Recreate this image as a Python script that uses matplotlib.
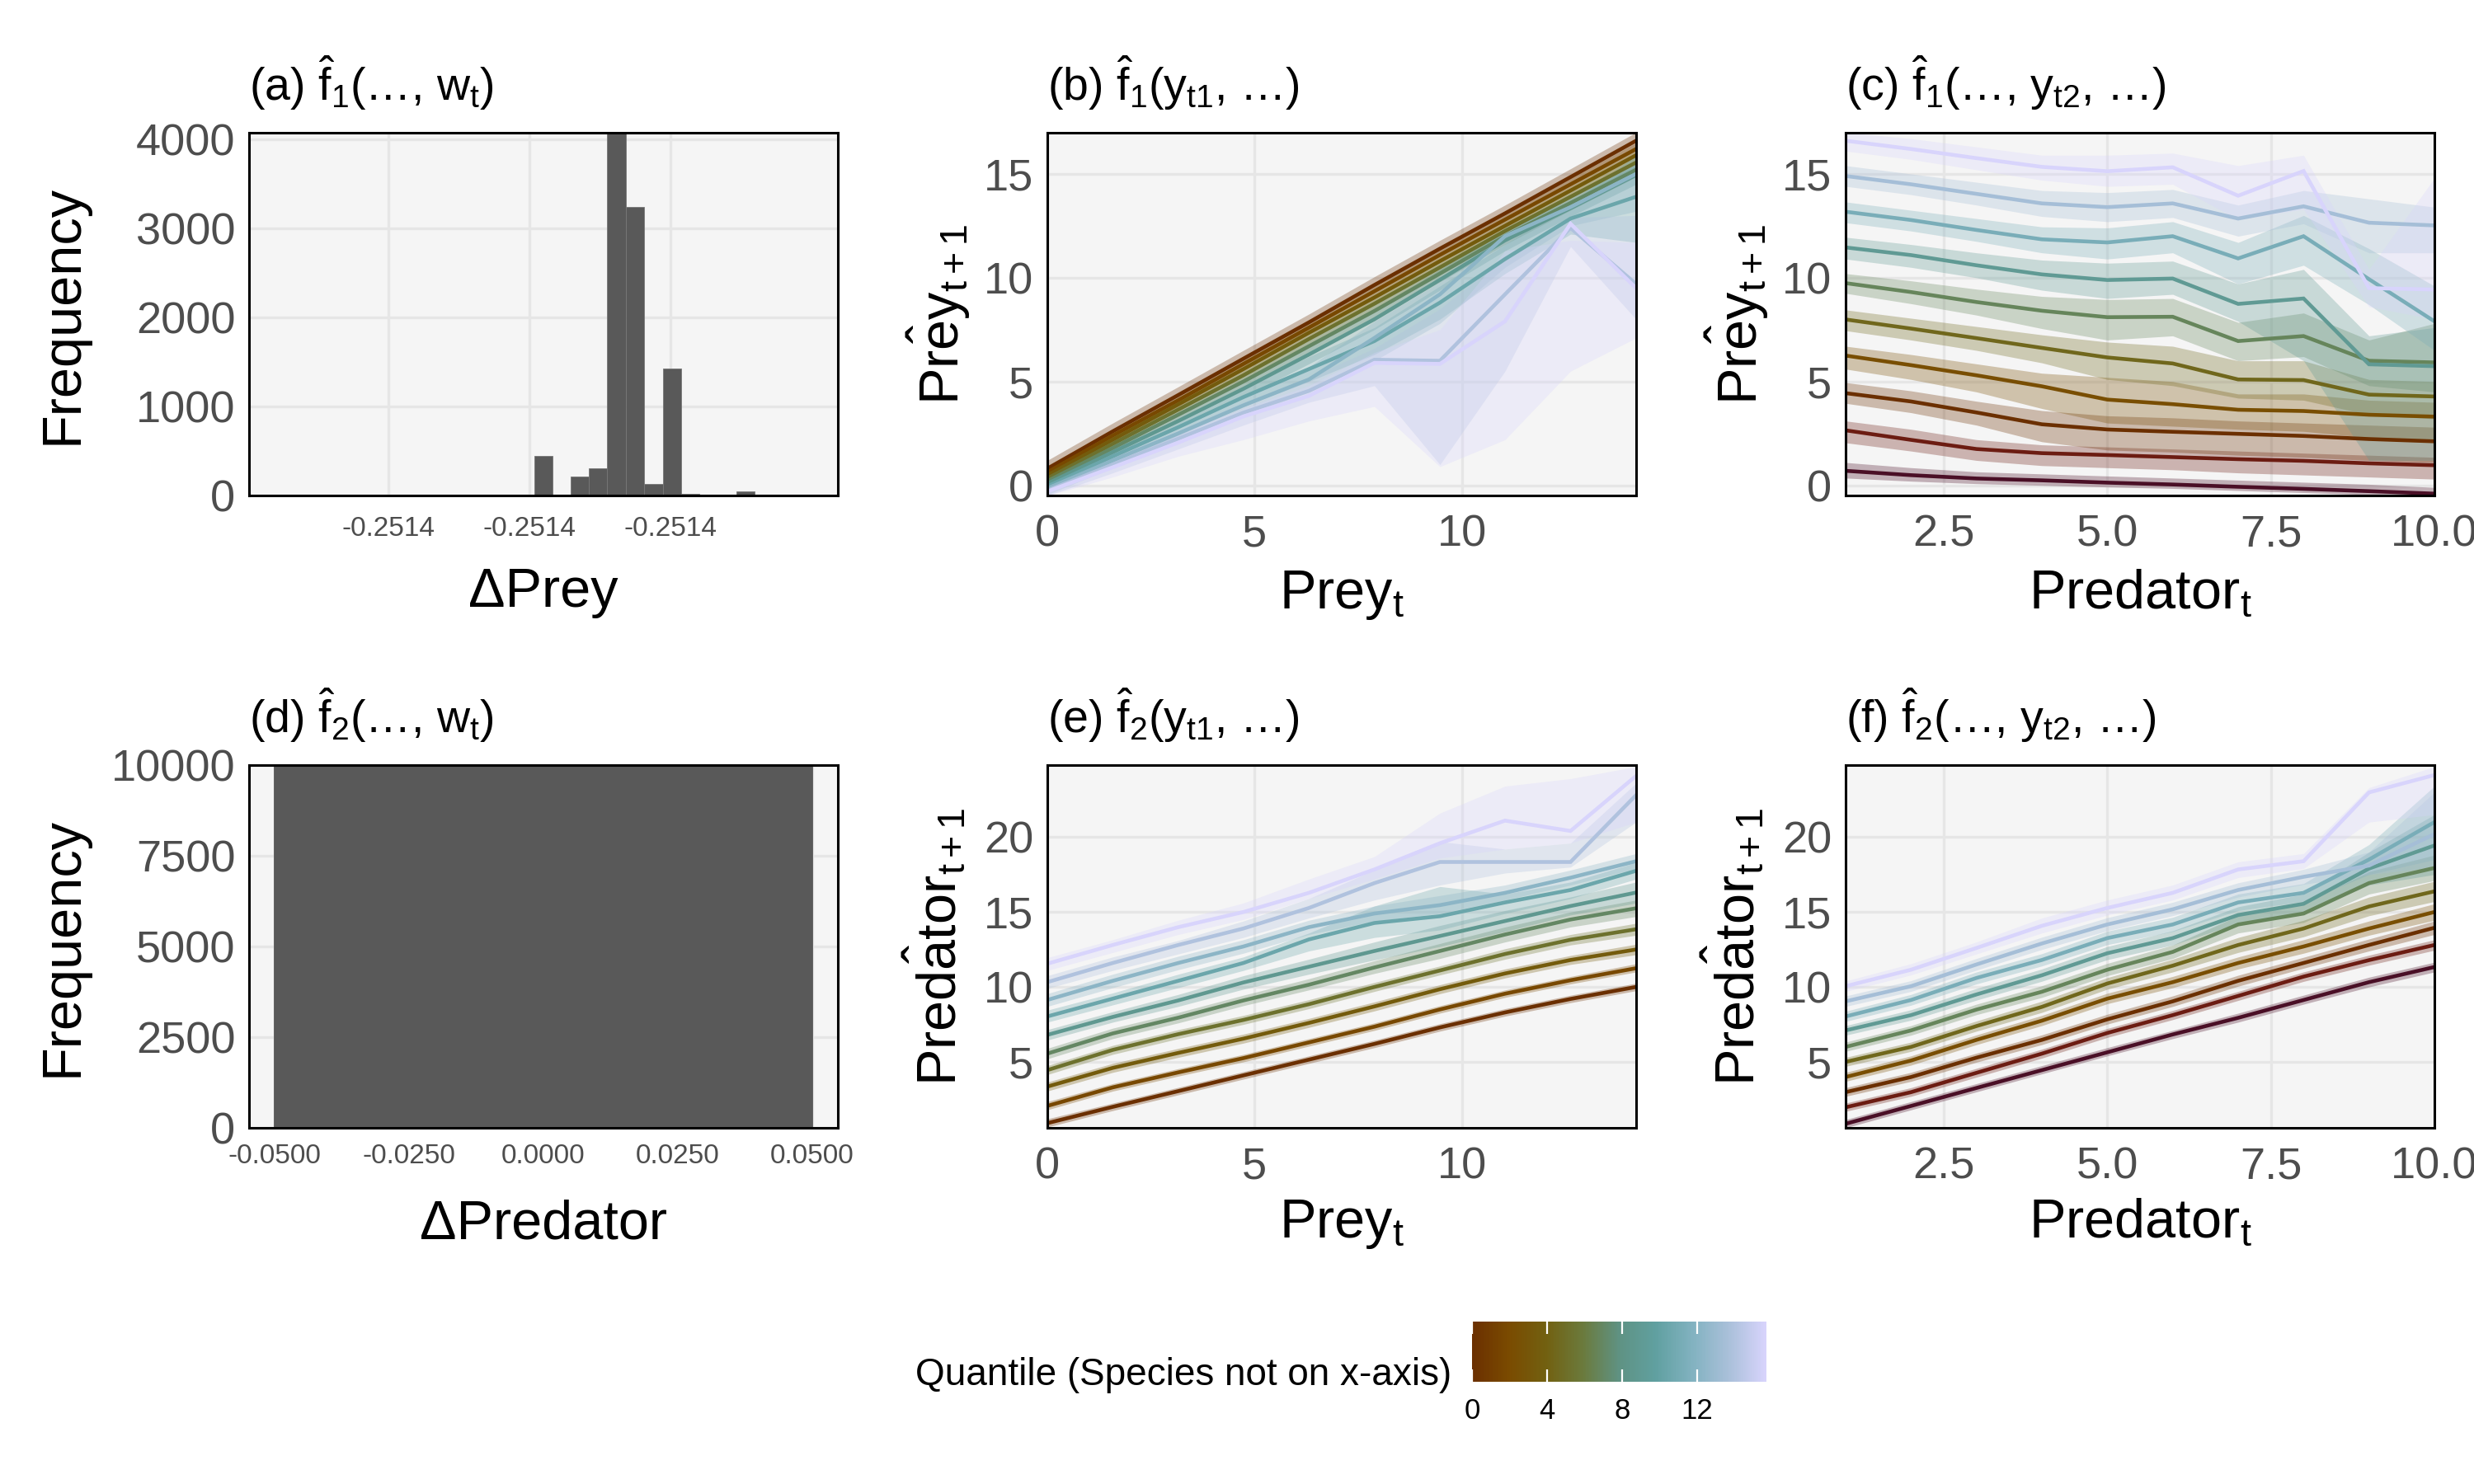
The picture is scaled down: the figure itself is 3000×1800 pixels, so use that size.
import numpy as np
import matplotlib
matplotlib.use('Agg')
import matplotlib.pyplot as plt
from matplotlib.colors import LinearSegmentedColormap, Normalize
from matplotlib.cm import ScalarMappable

plt.rcParams['font.family'] = ['Liberation Sans', 'DejaVu Sans']
plt.rcParams['mathtext.fontset'] = 'custom'
plt.rcParams['mathtext.rm'] = 'Liberation Sans'
plt.rcParams['mathtext.it'] = 'Liberation Sans'
plt.rcParams['mathtext.bf'] = 'Liberation Sans:bold'
plt.rcParams['axes.unicode_minus'] = False

# ---------------- data ----------------
# (a) histogram of Delta Prey: bin edges as offsets (x1e-10) from -0.2514
a_base = -0.2514
a_edges_off = [0.63, 3.22, 5.81, 8.41, 11.0, 13.59, 16.18, 18.85, 21.45, 24.04, 26.63, 29.3, 31.9, 34.4]
a_counts = [444, 0, 211, 309, 4072, 3236, 127, 1430, 21, 0, 0, 42, 0]
a_ticks_off = [-20, 0, 20]
a_xlim_off = [-39.8, 43.7]

# (d) histogram of Delta Predator
d_edges = [-0.0501, 0.0500]
d_counts = [10000]
d_ticks = [-0.05, -0.025, 0.0, 0.025, 0.05]

# x grids
prey_x = [0.0, 1.58, 3.16, 4.73, 6.31, 7.89, 9.47, 11.04, 12.62, 14.2]
pred_x = [1, 2, 3, 4, 5, 6, 7, 8, 9, 10]

# (b) f1 vs Prey_t, lines = predator quantiles (brown -> lavender)
b_mid = [
    [0.80, 2.60, 4.35, 6.10, 7.85, 9.65, 11.40, 13.10, 14.85, 16.60],
    [0.63, 2.40, 4.10, 5.85, 7.60, 9.35, 11.10, 12.80, 14.50, 16.20],
    [0.48, 2.20, 3.90, 5.60, 7.35, 9.05, 10.80, 12.50, 14.20, 15.90],
    [0.33, 2.00, 3.65, 5.30, 7.05, 8.75, 10.50, 12.25, 13.90, 15.55],
    [0.20, 1.80, 3.40, 5.00, 6.70, 8.40, 10.20, 12.00, 13.60, 15.20],
    [0.08, 1.60, 3.10, 4.65, 6.30, 8.00, 9.90, 11.80, 13.35, 14.95],
    [-0.05, 1.40, 2.80, 4.25, 5.60, 6.95, 8.80, 10.90, 12.85, 13.90],
    [-0.15, 1.20, 2.50, 3.85, 5.10, 7.10, 9.20, 12.00, 13.40, 15.00],
    [-0.25, 1.00, 2.25, 3.50, 4.55, 6.05, 6.00, 9.20, 12.40, 9.70],
    [-0.30, 0.87, 2.06, 3.32, 4.31, 5.90, 5.85, 7.90, 12.60, 9.50],
]
b_lo = [
    [0.45, 2.25, 4.00, 5.75, 7.50, 9.30, 11.05, 12.75, 14.50, 16.25],
    [0.35, 2.10, 3.80, 5.55, 7.30, 9.05, 10.80, 12.50, 14.20, 15.90],
    [0.20, 1.90, 3.60, 5.30, 7.05, 8.75, 10.50, 12.20, 13.90, 15.60],
    [0.05, 1.70, 3.35, 5.00, 6.75, 8.45, 10.20, 11.95, 13.60, 15.25],
    [-0.10, 1.50, 3.05, 4.65, 6.30, 8.00, 9.80, 11.60, 13.25, 14.85],
    [-0.20, 1.30, 2.75, 4.25, 5.85, 7.50, 9.40, 11.30, 12.95, 14.50],
    [-0.35, 1.05, 2.40, 3.80, 5.00, 6.30, 8.00, 10.20, 12.10, 11.70],
    [-0.45, 0.85, 2.10, 3.35, 4.50, 6.00, 7.80, 10.50, 12.50, 13.20],
    [-0.50, 0.60, 1.75, 2.90, 4.00, 4.80, 1.00, 5.50, 11.50, 8.00],
    [-0.50, 0.40, 1.40, 2.20, 3.10, 3.80, 0.90, 2.20, 5.50, 7.10],
]
b_hi = [
    [1.20, 3.00, 4.75, 6.50, 8.25, 10.05, 11.80, 13.50, 15.25, 17.00],
    [0.95, 2.70, 4.40, 6.15, 7.90, 9.65, 11.40, 13.10, 14.80, 16.50],
    [0.80, 2.50, 4.20, 5.90, 7.65, 9.35, 11.10, 12.80, 14.50, 16.20],
    [0.65, 2.30, 3.95, 5.60, 7.35, 9.05, 10.80, 12.55, 14.20, 15.85],
    [0.50, 2.10, 3.75, 5.35, 7.10, 8.80, 10.60, 12.40, 13.95, 15.55],
    [0.40, 1.90, 3.45, 5.05, 6.75, 8.50, 10.40, 12.30, 13.75, 15.40],
    [0.25, 1.75, 3.20, 4.70, 6.20, 7.60, 9.60, 11.60, 13.60, 15.90],
    [0.15, 1.55, 2.90, 4.35, 5.70, 7.90, 9.80, 12.40, 13.90, 15.50],
    [0.05, 1.35, 2.65, 4.00, 5.20, 6.60, 8.50, 11.00, 12.90, 13.00],
    [0.00, 1.25, 2.50, 3.70, 4.80, 6.40, 7.50, 11.30, 11.80, 11.70],
]

# (c) f1 vs Predator_t, lines = prey quantiles (maroon -> lavender)
c_mid = [
    [0.70, 0.49, 0.33, 0.24, 0.13, 0.04, -0.07, -0.17, -0.28, -0.40],
    [2.65, 2.19, 1.75, 1.55, 1.46, 1.36, 1.26, 1.18, 1.06, 0.97],
    [4.44, 4.04, 3.51, 2.94, 2.69, 2.58, 2.48, 2.38, 2.23, 2.12],
    [6.25, 5.79, 5.30, 4.77, 4.13, 3.91, 3.64, 3.58, 3.40, 3.31],
    [7.99, 7.55, 7.09, 6.62, 6.16, 5.87, 5.10, 5.07, 4.37, 4.28],
    [9.74, 9.31, 8.83, 8.41, 8.10, 8.12, 6.95, 7.19, 6.00, 5.92],
    [11.46, 11.09, 10.60, 10.16, 9.89, 9.96, 8.74, 9.00, 5.83, 5.74],
    [13.18, 12.78, 12.30, 11.85, 11.70, 12.00, 10.93, 12.00, 9.93, 7.90],
    [14.90, 14.50, 14.04, 13.58, 13.40, 13.58, 12.85, 13.44, 12.65, 12.52],
    [16.60, 16.20, 15.76, 15.34, 15.13, 15.32, 13.95, 15.14, 9.50, 9.43],
]
c_lo = [
    [0.35, 0.20, 0.08, 0.00, -0.08, -0.15, -0.25, -0.35, -0.45, -0.55],
    [2.05, 1.65, 1.20, 0.95, 0.85, 0.75, 0.60, 0.50, 0.40, 0.30],
    [3.95, 3.50, 2.90, 2.10, 1.70, 1.60, 1.45, 1.35, 1.20, 1.10],
    [5.60, 5.10, 4.50, 3.70, 3.00, 2.85, 2.70, 2.60, 2.30, 2.10],
    [7.45, 7.00, 6.50, 5.90, 5.10, 4.80, 4.20, 4.10, 3.40, 3.20],
    [9.25, 8.75, 8.20, 7.55, 7.00, 7.20, 6.00, 6.20, 4.80, 4.50],
    [10.90, 10.50, 10.00, 9.40, 9.00, 9.20, 7.90, 6.00, 1.20, 1.20],
    [12.65, 12.25, 11.75, 11.20, 10.90, 11.20, 9.70, 10.60, 8.70, 6.50],
    [14.40, 14.00, 13.50, 12.95, 12.70, 12.90, 12.00, 12.60, 11.20, 11.20],
    [16.10, 15.70, 15.20, 14.70, 14.40, 14.50, 12.80, 13.30, 8.60, 8.00],
]
c_hi = [
    [1.10, 0.85, 0.65, 0.55, 0.45, 0.35, 0.25, 0.15, 0.05, -0.10],
    [3.10, 2.70, 2.20, 1.95, 1.85, 1.75, 1.65, 1.55, 1.45, 1.35],
    [4.95, 4.55, 4.05, 3.60, 3.35, 3.25, 3.10, 3.00, 2.90, 2.80],
    [6.70, 6.30, 5.85, 5.40, 5.20, 5.00, 4.40, 4.40, 4.10, 4.00],
    [8.45, 8.05, 7.65, 7.25, 6.90, 6.70, 6.00, 6.00, 5.10, 5.00],
    [10.20, 9.85, 9.45, 9.10, 8.95, 9.00, 7.85, 8.30, 7.00, 7.80],
    [11.95, 11.60, 11.20, 10.85, 10.70, 10.80, 9.70, 10.40, 7.20, 7.60],
    [13.65, 13.25, 12.85, 12.45, 12.40, 12.70, 11.70, 13.00, 11.40, 9.60],
    [15.40, 15.00, 14.60, 14.20, 14.10, 14.25, 13.50, 14.20, 13.80, 13.40],
    [17.00, 16.70, 16.30, 15.90, 15.90, 16.00, 15.40, 15.90, 10.40, 14.80],
]

# (e) f2 vs Prey_t
e_mid = [
    [0.91, 2.00, 3.05, 4.10, 5.15, 6.20, 7.30, 8.30, 9.20, 10.00],
    [2.06, 3.30, 4.30, 5.25, 6.30, 7.35, 8.50, 9.55, 10.45, 11.25],
    [3.35, 4.60, 5.60, 6.55, 7.60, 8.70, 9.85, 10.90, 11.80, 12.50],
    [4.45, 5.80, 6.85, 7.80, 8.85, 10.00, 11.10, 12.20, 13.15, 13.85],
    [5.55, 6.90, 7.95, 9.10, 10.15, 11.30, 12.40, 13.50, 14.50, 15.25],
    [6.80, 8.00, 9.10, 10.30, 11.35, 12.40, 13.40, 14.40, 15.40, 16.30],
    [8.03, 9.22, 10.41, 11.60, 13.17, 14.27, 14.72, 15.64, 16.47, 17.75],
    [9.13, 10.41, 11.60, 12.70, 13.99, 14.90, 15.46, 16.28, 17.29, 18.39],
    [10.32, 11.60, 12.80, 13.90, 15.27, 16.93, 18.34, 18.34, 18.34, 22.80],
    [11.55, 12.80, 13.99, 15.00, 16.28, 17.84, 19.59, 21.10, 20.41, 24.08],
]
e_lo = [
    [0.65, 1.75, 2.80, 3.85, 4.90, 5.95, 7.05, 8.05, 8.95, 9.75],
    [1.80, 3.05, 4.05, 5.00, 6.05, 7.10, 8.25, 9.30, 10.20, 11.00],
    [3.05, 4.30, 5.30, 6.25, 7.30, 8.40, 9.55, 10.60, 11.50, 12.15],
    [4.15, 5.50, 6.55, 7.50, 8.55, 9.70, 10.80, 11.85, 12.80, 13.45],
    [5.20, 6.55, 7.60, 8.75, 9.80, 10.90, 11.90, 13.00, 14.00, 14.70],
    [6.45, 7.65, 8.70, 9.85, 10.85, 11.80, 12.70, 13.70, 14.80, 15.60],
    [7.65, 8.80, 9.95, 11.10, 12.40, 13.30, 13.80, 14.90, 15.90, 17.20],
    [8.70, 9.95, 11.15, 12.25, 13.50, 14.40, 14.90, 15.80, 16.80, 17.90],
    [9.90, 11.10, 12.20, 13.30, 14.60, 15.80, 16.80, 17.60, 18.00, 21.00],
    [11.10, 12.30, 13.50, 14.50, 15.90, 17.20, 18.60, 19.20, 19.60, 21.00],
]
e_hi = [
    [1.20, 2.25, 3.30, 4.35, 5.40, 6.45, 7.55, 8.55, 9.45, 10.25],
    [2.35, 3.55, 4.55, 5.50, 6.55, 7.60, 8.75, 9.80, 10.70, 11.55],
    [3.65, 4.90, 5.90, 6.85, 7.90, 9.00, 10.15, 11.20, 12.10, 12.85],
    [4.75, 6.10, 7.15, 8.10, 9.15, 10.30, 11.40, 12.55, 13.50, 14.25],
    [5.90, 7.25, 8.30, 9.45, 10.55, 11.75, 12.90, 14.00, 15.00, 15.80],
    [7.15, 8.35, 9.50, 10.75, 11.85, 13.00, 14.10, 15.10, 16.00, 17.00],
    [8.45, 9.60, 10.85, 12.00, 13.60, 15.40, 16.70, 16.20, 17.00, 18.30],
    [9.55, 10.85, 12.05, 13.15, 14.45, 15.40, 16.10, 16.80, 17.80, 18.90],
    [10.75, 12.00, 13.10, 14.40, 15.90, 17.80, 19.70, 19.20, 19.60, 23.60],
    [11.95, 13.15, 14.45, 15.60, 17.20, 18.70, 21.60, 23.40, 23.90, 24.70],
]

# (f) f2 vs Predator_t
f_mid = [
    [0.87, 2.06, 3.26, 4.45, 5.64, 6.83, 7.94, 9.13, 10.32, 11.33],
    [1.97, 2.98, 4.27, 5.55, 6.93, 8.12, 9.40, 10.69, 11.79, 12.80],
    [2.98, 3.99, 5.28, 6.47, 7.84, 9.04, 10.41, 11.60, 12.80, 13.95],
    [3.99, 5.09, 6.47, 7.75, 9.22, 10.32, 11.60, 12.70, 13.90, 15.00],
    [5.00, 6.00, 7.39, 8.67, 10.23, 11.42, 12.80, 13.90, 15.37, 16.38],
    [6.00, 7.10, 8.49, 9.68, 11.15, 12.34, 14.17, 14.90, 16.93, 17.94],
    [7.10, 8.12, 9.50, 10.78, 12.25, 13.26, 14.80, 15.55, 17.90, 19.44],
    [8.03, 9.13, 10.60, 11.80, 13.26, 14.17, 15.64, 16.28, 18.50, 21.00],
    [9.04, 10.05, 11.50, 12.90, 14.17, 15.18, 16.47, 17.35, 18.10, 20.20],
    [10.05, 11.15, 12.60, 14.08, 15.27, 16.28, 17.84, 18.39, 22.98, 24.14],
]
f_lo = [
    [0.60, 1.80, 3.00, 4.20, 5.40, 6.55, 7.65, 8.85, 10.00, 11.00],
    [1.70, 2.70, 3.98, 5.25, 6.63, 7.82, 9.10, 10.37, 11.45, 12.45],
    [2.70, 3.70, 4.98, 6.15, 7.52, 8.70, 10.05, 11.25, 12.40, 13.50],
    [3.70, 4.78, 6.15, 7.42, 8.88, 9.95, 11.20, 12.25, 13.45, 14.45],
    [4.70, 5.70, 7.05, 8.30, 9.85, 11.00, 12.30, 13.35, 14.75, 15.70],
    [5.70, 6.78, 8.15, 9.30, 10.75, 11.90, 13.60, 14.30, 16.20, 17.10],
    [6.78, 7.78, 9.12, 10.38, 11.82, 12.80, 14.25, 14.95, 16.80, 17.50],
    [7.70, 8.78, 10.20, 11.40, 12.82, 13.70, 15.10, 15.70, 17.50, 18.50],
    [8.70, 9.70, 11.12, 12.50, 13.75, 14.75, 16.00, 16.85, 17.50, 18.00],
    [9.70, 10.80, 12.20, 13.60, 14.80, 15.80, 17.30, 17.90, 21.00, 21.50],
]
f_hi = [
    [1.15, 2.35, 3.55, 4.75, 5.95, 7.10, 8.25, 9.45, 10.65, 11.65],
    [2.25, 3.28, 4.57, 5.85, 7.23, 8.43, 9.70, 11.00, 12.12, 13.15],
    [3.28, 4.30, 5.58, 6.80, 8.18, 9.40, 10.78, 11.98, 13.20, 14.40],
    [4.30, 5.40, 6.80, 8.10, 9.58, 10.70, 12.00, 13.15, 14.40, 15.55],
    [5.30, 6.32, 7.73, 9.05, 10.62, 11.85, 13.30, 14.45, 16.00, 17.05],
    [6.32, 7.42, 8.85, 10.08, 11.57, 12.80, 14.75, 15.55, 17.70, 18.80],
    [7.42, 8.48, 9.90, 11.20, 12.70, 13.75, 15.35, 16.20, 19.00, 21.50],
    [8.38, 9.50, 11.00, 12.22, 13.72, 14.65, 16.20, 16.90, 19.50, 23.40],
    [9.40, 10.42, 11.90, 13.32, 14.62, 15.65, 16.95, 17.85, 19.00, 23.00],
    [10.40, 11.55, 13.00, 14.60, 15.80, 16.80, 18.35, 18.90, 23.30, 24.70],
]

legend_range = [0, 15.7]
legend_ticks = [0, 4, 8, 12]

# ---------------- colours ----------------
leg_stops = ['#6b2f00', '#7a4b00', '#726010', '#6b7a3c', '#5f9283', '#60a0a0',
             '#82b2c0', '#aac0da', '#d8d4fc']
cmap_leg = LinearSegmentedColormap.from_list('quant_leg', leg_stops)
cf_stops = ['#4a0f26', '#6c1c12'] + leg_stops
cf_pos = [0.0, 0.111] + list(np.linspace(0.222, 1.0, len(leg_stops)))
cmap_cf = LinearSegmentedColormap.from_list('quant_cf', list(zip(cf_pos, cf_stops)))

BG = '#f5f5f5'
GRID = '#e6e6e6'
TICK_C = '#4d4d4d'

fig = plt.figure(figsize=(30, 18), dpi=100)
fig.patch.set_facecolor('white')

W = 0.238
H = 0.2444
lefts = [0.1007, 0.4233, 0.746]
bottoms = [0.6661, 0.24]


def style(ax, tick_size=39):
    ax.set_facecolor(BG)
    ax.grid(True, color=GRID, lw=2.4)
    ax.set_axisbelow(True)
    for s in ax.spines.values():
        s.set_color('black')
        s.set_linewidth(2.2)
    ax.tick_params(axis='both', length=0, labelsize=tick_size, labelcolor=TICK_C)
    ax.tick_params(axis='x', pad=16)
    ax.tick_params(axis='y', pad=12)


def quantile_panel(ax, x, mid, lo, hi, cmap):
    n = len(mid)
    cols = [cmap(i / (n - 1)) for i in range(n)]
    for i in range(n):
        ax.fill_between(x, lo[i], hi[i], color=cols[i], alpha=0.3, lw=0)
    for i in range(n):
        ax.plot(x, mid[i], color=cols[i], lw=3.3, solid_joinstyle='miter')
    ax.set_xlim(x[0], x[-1])


TITLE_FS = 40
LABEL_FS = 48
TPAD = 28

# (a)
ax = fig.add_axes([lefts[0], bottoms[0], W, H])
style(ax)
edges = a_base + np.array(a_edges_off) * 1e-10
ax.bar(edges[:-1], a_counts, width=np.diff(edges), align='edge',
       color='#595959', edgecolor='#777777', linewidth=0.6)
ax.set_xlim(a_base + a_xlim_off[0] * 1e-10, a_base + a_xlim_off[1] * 1e-10)
ax.set_ylim(0, 4072)
ax.set_yticks([0, 1000, 2000, 3000, 4000])
tks = a_base + np.array(a_ticks_off) * 1e-10
ax.set_xticks(tks)
ax.set_xticklabels(['%.4f' % t for t in tks])
ax.tick_params(axis='x', labelsize=24, pad=18)
ax.set_ylabel('Frequency', fontsize=LABEL_FS)
ax.yaxis.set_label_coords(-0.273, 0.5)
ax.set_xlabel('ΔPrey', fontsize=LABEL_FS, labelpad=22)
ax.set_title(r'(a) $\hat{f}_1$(…, $w_t$)', loc='left', fontsize=TITLE_FS, pad=TPAD)

# (b)
ax = fig.add_axes([lefts[1], bottoms[0], W, H])
style(ax)
quantile_panel(ax, prey_x, b_mid, b_lo, b_hi, cmap_leg)
ax.set_ylim(-0.49, 16.98)
ax.set_xticks([0, 5, 10])
ax.set_yticks([0, 5, 10, 15])
ax.set_ylabel(r'$\hat{\mathrm{Prey}}_{t+1}$', fontsize=LABEL_FS, labelpad=10)
ax.set_xlabel(r'Prey$_t$', fontsize=LABEL_FS, labelpad=12)
ax.set_title(r'(b) $\hat{f}_1$($y_{t1}$, …)', loc='left', fontsize=TITLE_FS, pad=TPAD)

# (c)
ax = fig.add_axes([lefts[2], bottoms[0], W, H])
style(ax)
quantile_panel(ax, pred_x, c_mid, c_lo, c_hi, cmap_cf)
ax.set_ylim(-0.49, 16.98)
ax.set_xticks([2.5, 5.0, 7.5, 10.0])
ax.set_xticklabels(['2.5', '5.0', '7.5', '10.0'])
ax.set_yticks([0, 5, 10, 15])
ax.set_ylabel(r'$\hat{\mathrm{Prey}}_{t+1}$', fontsize=LABEL_FS, labelpad=10)
ax.set_xlabel(r'Predator$_t$', fontsize=LABEL_FS, labelpad=12)
ax.set_title(r'(c) $\hat{f}_1$(…, $y_{t2}$, …)', loc='left', fontsize=TITLE_FS, pad=TPAD)

# (d)
ax = fig.add_axes([lefts[0], bottoms[1], W, H])
style(ax)
ax.bar(d_edges[:-1], d_counts, width=np.diff(d_edges), align='edge',
       color='#595959', edgecolor='#595959', linewidth=0.6)
ax.set_xlim(-0.0547, 0.0548)
ax.set_ylim(0, 10000)
ax.set_yticks([0, 2500, 5000, 7500, 10000])
ax.set_xticks(d_ticks)
ax.set_xticklabels(['%.4f' % t for t in d_ticks])
ax.tick_params(axis='x', labelsize=24, pad=14)
ax.set_ylabel('Frequency', fontsize=LABEL_FS)
ax.yaxis.set_label_coords(-0.273, 0.5)
ax.set_xlabel('ΔPredator', fontsize=LABEL_FS, labelpad=26)
ax.set_title(r'(d) $\hat{f}_2$(…, $w_t$)', loc='left', fontsize=TITLE_FS, pad=TPAD)

# (e)
ax = fig.add_axes([lefts[1], bottoms[1], W, H])
style(ax)
quantile_panel(ax, prey_x, e_mid, e_lo, e_hi, cmap_leg)
ax.set_ylim(0.6, 24.8)
ax.set_xticks([0, 5, 10])
ax.set_yticks([5, 10, 15, 20])
ax.set_ylabel(r'$\hat{\mathrm{Predator}}_{t+1}$', fontsize=LABEL_FS, labelpad=14)
ax.set_xlabel(r'Prey$_t$', fontsize=LABEL_FS, labelpad=9)
ax.set_title(r'(e) $\hat{f}_2$($y_{t1}$, …)', loc='left', fontsize=TITLE_FS, pad=TPAD)

# (f)
ax = fig.add_axes([lefts[2], bottoms[1], W, H])
style(ax)
quantile_panel(ax, pred_x, f_mid, f_lo, f_hi, cmap_cf)
ax.set_ylim(0.6, 24.8)
ax.set_xticks([2.5, 5.0, 7.5, 10.0])
ax.set_xticklabels(['2.5', '5.0', '7.5', '10.0'])
ax.set_yticks([5, 10, 15, 20])
ax.set_ylabel(r'$\hat{\mathrm{Predator}}_{t+1}$', fontsize=LABEL_FS, labelpad=14)
ax.set_xlabel(r'Predator$_t$', fontsize=LABEL_FS, labelpad=9)
ax.set_title(r'(f) $\hat{f}_2$(…, $y_{t2}$, …)', loc='left', fontsize=TITLE_FS, pad=TPAD)

# colour legend
cax = fig.add_axes([0.595, 0.069, 0.119, 0.0406])
sm = ScalarMappable(norm=Normalize(*legend_range), cmap=cmap_leg)
cb = fig.colorbar(sm, cax=cax, orientation='horizontal')
cb.outline.set_visible(False)
cb.set_ticks(legend_ticks)
cb.set_ticklabels([str(t) for t in legend_ticks])
cax.tick_params(axis='x', direction='in', color='white', labelcolor='black',
                length=11, width=1.6, top=True, bottom=True, labelsize=25, pad=14)
fig.text(0.5867, 0.0733, 'Quantile (Species not on x-axis)', ha='right', va='center',
         fontsize=33)

fig.savefig('out.png', dpi=100, facecolor='white')
